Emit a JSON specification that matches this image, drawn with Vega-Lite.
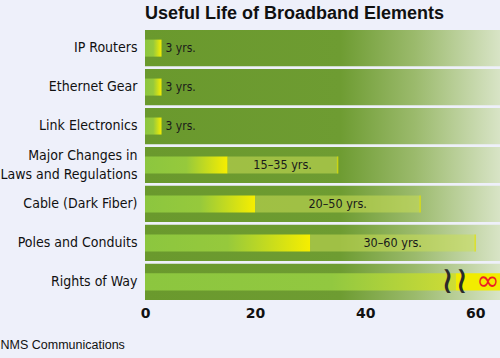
{
  "$schema": "https://vega.github.io/schema/vega-lite/v6.json",
  "width": 355,
  "height": 270,
  "autosize": {"type": "none"},
  "padding": {"left": 145, "top": 30, "right": 0, "bottom": 58},
  "background": "#eef0fa",
  "config": {"view": {"stroke": null}},
  "title": {
    "text": "Useful Life of Broadband Elements",
    "anchor": "start",
    "frame": "group",
    "font": "Liberation Sans",
    "fontSize": 18,
    "fontWeight": "bold",
    "color": "#111111",
    "baseline": "alphabetic",
    "offset": 11,
    "dy": 18
  },
  "data": {
    "values": [
      {"element": "IP Routers", "low": 3, "high": 3, "label": "3 yrs."},
      {"element": "Ethernet Gear", "low": 3, "high": 3, "label": "3 yrs."},
      {"element": "Link Electronics", "low": 3, "high": 3, "label": "3 yrs."},
      {"element": "Major Changes in|Laws and Regulations", "low": 15, "high": 35, "label": "15–35 yrs."},
      {"element": "Cable (Dark Fiber)", "low": 20, "high": 50, "label": "20–50 yrs."},
      {"element": "Poles and Conduits", "low": 30, "high": 60, "label": "30–60 yrs."},
      {"element": "Rights of Way", "low": null, "high": null, "label": "∞"}
    ]
  },
  "encoding": {
    "y": {
      "field": "element",
      "type": "nominal",
      "sort": null,
      "scale": {"paddingInner": 0.07, "paddingOuter": 0},
      "axis": {
        "title": null,
        "domain": false,
        "ticks": false,
        "labelFont": "Liberation Sans Narrow, DejaVu Sans Condensed, sans-serif",
        "labelFontSize": 14,
        "labelColor": "#111111",
        "labelPadding": 8,
        "labelLimit": 200,
        "labelLineHeight": 19,
        "labelOffset": {"condition": {"test": "indexof(datum.value, '|') >= 0", "value": -9}, "value": 0},
        "labelExpr": "split(datum.label, '|')"
      }
    }
  },
  "layer": [
    {
      "mark": {
        "type": "bar",
        "color": {
          "gradient": "linear",
          "stops": [
            {"offset": 0, "color": "#6a992d"},
            {"offset": 0.55, "color": "#6e9c32"},
            {"offset": 0.76, "color": "#9bba6c"},
            {"offset": 1, "color": "#d8e4c6"}
          ]
        }
      },
      "encoding": {
        "x": {
          "datum": 0,
          "type": "quantitative",
          "scale": {"domain": [0, 64.5], "nice": false},
          "axis": {
            "values": [0, 20, 40, 60],
            "grid": false,
            "domain": false,
            "ticks": false,
            "labelFlush": false,
            "labelFont": "DejaVu Sans",
            "labelFontWeight": "bold",
            "labelFontSize": 14,
            "labelColor": "#111111",
            "labelPadding": 6,
            "title": "NMS Communications",
            "titleFont": "Liberation Sans",
            "titleFontSize": 12.5,
            "titleFontWeight": "normal",
            "titleColor": "#111111",
            "titleX": -145,
            "titleY": 48,
            "titleAlign": "left",
            "titleBaseline": "alphabetic"
          }
        },
        "x2": {"datum": 64.5}
      }
    },
    {
      "transform": [{"filter": "datum.low != null"}],
      "mark": {
        "type": "bar",
        "height": {"band": 0.47},
        "color": {
          "gradient": "linear",
          "stops": [
            {"offset": 0, "color": "#8cc63f"},
            {"offset": 0.5, "color": "#96c93c"},
            {"offset": 1, "color": "#f6ee00"}
          ]
        }
      },
      "encoding": {
        "x": {"field": "low", "type": "quantitative"}
      }
    },
    {
      "transform": [{"filter": "datum.high > datum.low"}],
      "mark": {"type": "bar", "height": {"band": 0.47}, "color": "#cade56", "opacity": 0.55},
      "encoding": {
        "x": {"field": "low", "type": "quantitative"},
        "x2": {"field": "high"}
      }
    },
    {
      "transform": [{"filter": "datum.high > datum.low"}],
      "mark": {"type": "tick", "color": "#e4e200", "thickness": 1.5, "size": 17},
      "encoding": {
        "x": {"field": "high", "type": "quantitative"}
      }
    },
    {
      "transform": [{"filter": "datum.low != null && datum.high == datum.low"}],
      "mark": {"type": "text", "align": "left", "dx": 4, "font": "Liberation Sans Narrow, DejaVu Sans Condensed, sans-serif", "fontSize": 12, "color": "#1a1a1a"},
      "encoding": {
        "x": {"field": "high", "type": "quantitative"},
        "text": {"field": "label"}
      }
    },
    {
      "transform": [
        {"filter": "datum.high > datum.low"},
        {"calculate": "(datum.low + datum.high) / 2", "as": "mid"}
      ],
      "mark": {"type": "text", "align": "center", "font": "Liberation Sans Narrow, DejaVu Sans Condensed, sans-serif", "fontSize": 12.5, "color": "#1a1a1a"},
      "encoding": {
        "x": {"field": "mid", "type": "quantitative"},
        "text": {"field": "label"}
      }
    },
    {
      "transform": [{"filter": "datum.low == null"}],
      "mark": {
        "type": "bar",
        "height": {"band": 0.47},
        "color": {
          "gradient": "linear",
          "stops": [
            {"offset": 0, "color": "#8cc63f"},
            {"offset": 0.6, "color": "#92c840"},
            {"offset": 1, "color": "#cedc36"}
          ]
        }
      },
      "encoding": {
        "x": {"datum": 0, "type": "quantitative"},
        "x2": {"datum": 56.5}
      }
    },
    {
      "transform": [{"filter": "datum.low == null"}],
      "mark": {"type": "bar", "height": {"band": 0.47}, "color": "#f2ec00"},
      "encoding": {
        "x": {"datum": 56.5, "type": "quantitative"},
        "x2": {"datum": 64.5}
      }
    },
    {
      "transform": [{"filter": "datum.low == null"}],
      "mark": {"type": "text", "text": "≀≀", "align": "center", "font": "DejaVu Sans", "fontSize": 38, "color": "#2a2a2a"},
      "encoding": {
        "x": {"datum": 56.3, "type": "quantitative"}
      }
    },
    {
      "transform": [{"filter": "datum.low == null"}],
      "mark": {"type": "text", "align": "left", "font": "DejaVu Sans", "fontSize": 28, "color": "#ee1c24"},
      "encoding": {
        "x": {"datum": 60.2, "type": "quantitative"},
        "text": {"field": "label"}
      }
    }
  ]
}
